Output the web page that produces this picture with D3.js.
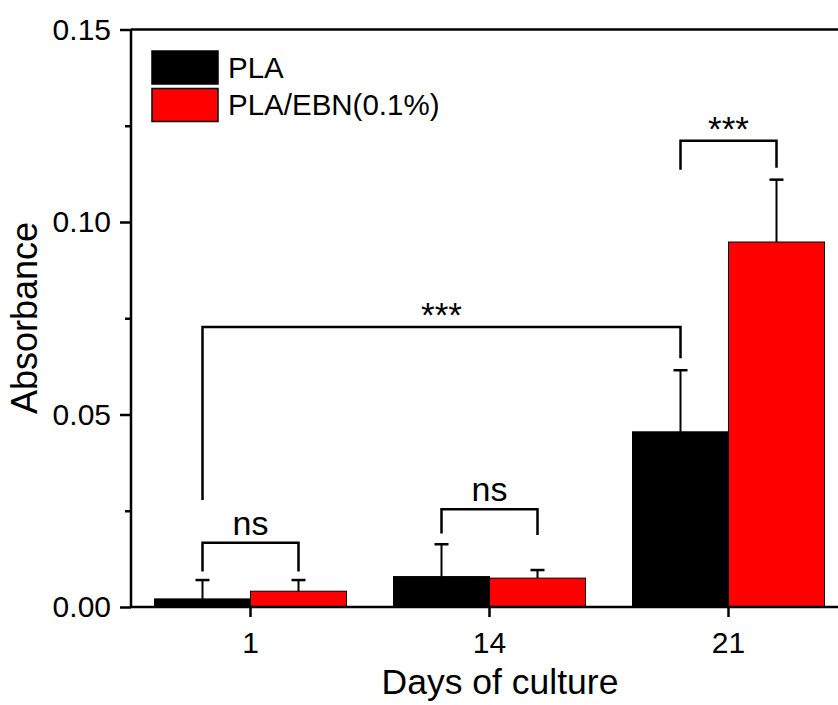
<!DOCTYPE html>
<html><head><meta charset="utf-8">
<script src="https://cdn.jsdelivr.net/npm/d3@7"></script>
<style>html,body{margin:0;padding:0;background:#fff;overflow:hidden}</style>
</head><body>
<svg id="chart" width="838" height="705"></svg>
<script>
const days = ["1", "14", "21"];
const seriesNames = ["PLA", "PLA/EBN(0.1%)"];
const seriesColors = ["#000000", "#ff0000"];
const plaValues = [0.0021, 0.0079, 0.0455];
const plaErrors = [0.0049, 0.0084, 0.0160];
const ebnValues = [0.0041, 0.0075, 0.0948];
const ebnErrors = [0.0029, 0.0021, 0.0162];
const yTicks = [0, 0.05, 0.10, 0.15];
const yMinorTicks = [0.025, 0.075, 0.125];
// [fromGroup, fromSeries, toGroup, toSeries, topValue, leftEndValue, rightEndValue, label]
const brackets = [
  [0, 0, 0, 1, 0.0167, 0.0092, 0.0092, "ns"],
  [1, 0, 1, 1, 0.0254, 0.0191, 0.0187, "ns"],
  [2, 0, 2, 1, 0.1211, 0.1136, 0.1141, "***"],
  [0, 0, 2, 0, 0.0727, 0.0278, 0.0646, "***"]
];

const font = "'Liberation Sans', Arial, sans-serif";
const svg = d3.select("#chart");
const pLeft = 131, pRight = 848, pTop = 29.5, pBottom = 607;

const x = d3.scaleBand().domain(days).range([pLeft, pRight]).paddingInner(0).paddingOuter(0);
const barW = 96;
const xs = d3.scaleBand().domain([0, 1]).range([-barW, barW]);
const y = d3.scaleLinear().domain([0, 0.15]).range([pBottom, pTop]);

const values = [plaValues, ebnValues];
const errors = [plaErrors, ebnErrors];
const barCenter = (g, s) => x(days[g]) + x.bandwidth() / 2 + xs(s) + xs.bandwidth() / 2;

const barData = [];
days.forEach((d, g) => [0, 1].forEach(s => barData.push({g, s, v: values[s][g], e: errors[s][g]})));

// error bars (upper only)
const eb = svg.append("g");
barData.forEach(b => {
  const cx = barCenter(b.g, b.s);
  eb.append("line").attr("x1", cx).attr("x2", cx).attr("y1", y(b.v)).attr("y2", y(b.v + b.e))
    .attr("stroke", "#000").attr("stroke-width", 2);
  eb.append("line").attr("x1", cx - 7).attr("x2", cx + 7).attr("y1", y(b.v + b.e)).attr("y2", y(b.v + b.e))
    .attr("stroke", "#000").attr("stroke-width", 2.5);
});

svg.append("g").selectAll("rect").data(barData).join("rect")
  .attr("x", b => x(days[b.g]) + x.bandwidth() / 2 + xs(b.s))
  .attr("width", xs.bandwidth())
  .attr("y", b => y(b.v))
  .attr("height", b => y(0) - y(b.v))
  .attr("fill", b => seriesColors[b.s])
  .attr("stroke", "#000").attr("stroke-width", 1);

// top frame line
svg.append("line").attr("x1", pLeft).attr("x2", pRight).attr("y1", pTop).attr("y2", pTop)
  .attr("stroke", "#000").attr("stroke-width", 2.5);

// y axis
const yAxis = svg.append("g").attr("transform", `translate(${pLeft},0)`)
  .call(d3.axisLeft(y).tickValues(yTicks).tickFormat(d3.format(".2f")).tickSize(11).tickPadding(9));
yAxis.select(".domain").attr("stroke-width", 2.5).attr("d", `M0,${pBottom}V${pTop}`);
yAxis.selectAll(".tick line").attr("stroke-width", 2.5);
yAxis.selectAll(".tick text").attr("font-family", font).attr("font-size", 30).attr("fill", "#000");
svg.append("g").attr("transform", `translate(${pLeft},0)`)
  .call(d3.axisLeft(y).tickValues(yMinorTicks).tickFormat("").tickSize(6))
  .call(g => g.select(".domain").remove())
  .selectAll(".tick line").attr("stroke-width", 2.5);

// x axis
const xAxis = svg.append("g").attr("transform", `translate(0,${pBottom})`)
  .call(d3.axisBottom(x).tickSize(10).tickPadding(15));
xAxis.select(".domain").attr("stroke-width", 2.5).attr("d", `M${pLeft},0H${pRight}`);
xAxis.selectAll(".tick line").attr("stroke-width", 2.5);
xAxis.selectAll(".tick text").attr("font-family", font).attr("font-size", 30).attr("fill", "#000");

// axis titles
svg.append("text").attr("x", 500).attr("y", 694).attr("text-anchor", "middle")
  .attr("font-family", font).attr("font-size", 35.5).text("Days of culture");
svg.append("text").attr("transform", "translate(37,318) rotate(-90)").attr("text-anchor", "middle")
  .attr("font-family", font).attr("font-size", 36).text("Absorbance");

// significance brackets
const br = svg.append("g");
brackets.forEach(([g1, s1, g2, s2, tv, lv, rv, label]) => {
  const x1 = barCenter(g1, s1), x2 = barCenter(g2, s2);
  br.append("path")
    .attr("d", `M${x1},${y(lv)}V${y(tv)}H${x2}V${y(rv)}`)
    .attr("fill", "none").attr("stroke", "#000").attr("stroke-width", 2.5);
  const isStar = label === "***";
  br.append("text").attr("x", (x1 + x2) / 2).attr("y", y(tv) - (isStar ? 0 : 8))
    .attr("text-anchor", "middle").attr("font-family", font).attr("font-size", isStar ? 35 : 34)
    .text(label);
});

// legend
const lg = svg.append("g");
seriesNames.forEach((n, i) => {
  lg.append("rect").attr("x", 152).attr("y", 51 + i * 37.5).attr("width", 66).attr("height", 33)
    .attr("fill", seriesColors[i]).attr("stroke", "#000").attr("stroke-width", 1.5);
  lg.append("text").attr("x", 228).attr("y", 78 + i * 36.5)
    .attr("font-family", font).attr("font-size", 29.5).text(n);
});
</script>
</body></html>
